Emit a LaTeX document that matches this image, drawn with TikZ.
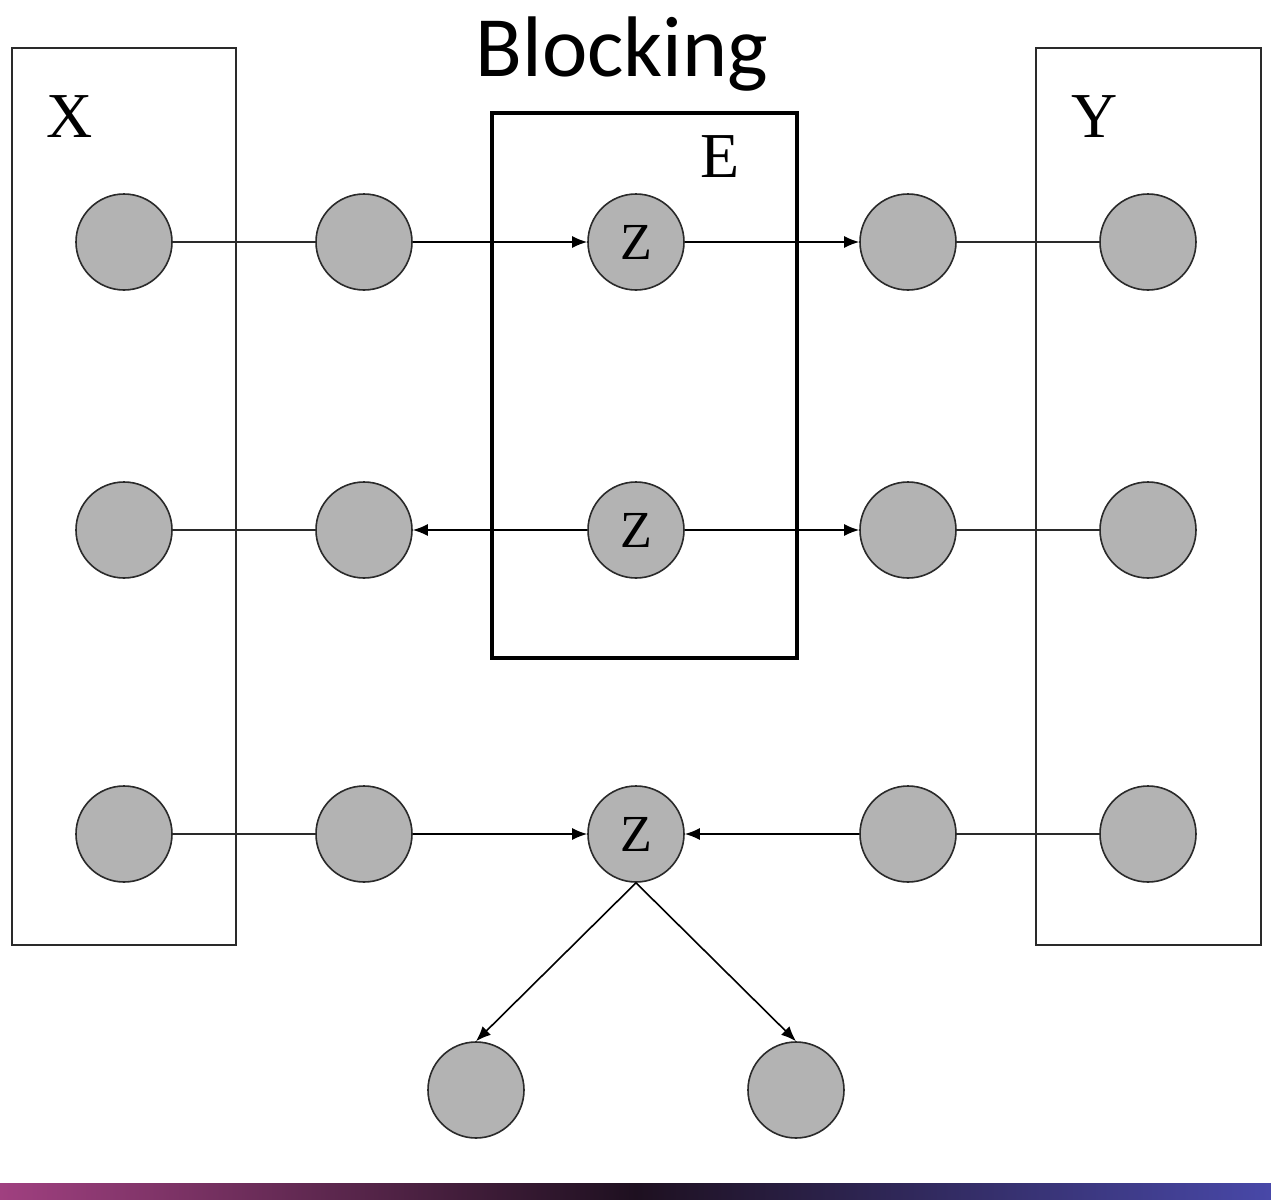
\documentclass[tikz,border=0pt]{standalone}
\usepackage{fontspec}
\setmainfont{Liberation Serif}
\newfontfamily\titlefont{Carlito}
\usetikzlibrary{arrows.meta}
\definecolor{nodegray}{HTML}{B3B3B3}
\definecolor{edgecol}{HTML}{2A2A2A}
\definecolor{stripA}{HTML}{A04080}
\definecolor{stripB}{HTML}{1E1020}
\definecolor{stripC}{HTML}{4848A8}
\begin{document}
\begin{tikzpicture}[x=0.5pt,y=-0.5pt,
  var/.style={circle,draw=edgecol,line width=0.8pt,fill=nodegray,minimum size=48pt,inner sep=0pt,font=\fontsize{26}{26}\selectfont},
  plain/.style={draw=edgecol,line width=0.8pt},
  arr/.style={draw=black,line width=0.8pt,-{Latex[length=7.5pt,width=6pt]}},
  thinbox/.style={draw=edgecol,line width=0.6pt},
  thickbox/.style={draw=black,line width=2pt},
  lab/.style={font=\fontsize{32}{32}\selectfont,inner sep=0pt}
]
\useasboundingbox (0,0) rectangle (1271,1200);
\fill[white] (0,0) rectangle (1271,1200);
% bottom strip
\shade[left color=stripA,right color=stripC,middle color=stripB] (0,1183) rectangle (1271,1200);

% boxes
\draw[thinbox] (12,48) rectangle (236,945);
\draw[thinbox] (1036,48) rectangle (1261,945);
\draw[thickbox] (492,113) rectangle (797,658);

% labels
\node[font=\titlefont\fontsize{43}{43}\selectfont,inner sep=0pt] (title) at (622,54) {Blocking};
\node[lab] (labX) at (70,117) {X};
\node[lab] (labY) at (1095,117) {Y};
\node[lab] (labE) at (720,157) {E};

% nodes row 1
\node[var] (x1) at (124,242) {};
\node[var] (a1) at (364,242) {};
\node[var] (z1) at (636,242) {Z};
\node[var] (b1) at (908,242) {};
\node[var] (y1) at (1148,242) {};
% row 2
\node[var] (x2) at (124,530) {};
\node[var] (a2) at (364,530) {};
\node[var] (z2) at (636,530) {Z};
\node[var] (b2) at (908,530) {};
\node[var] (y2) at (1148,530) {};
% row 3
\node[var] (x3) at (124,834) {};
\node[var] (a3) at (364,834) {};
\node[var] (z3) at (636,834) {Z};
\node[var] (b3) at (908,834) {};
\node[var] (y3) at (1148,834) {};
% children
\node[var] (d1) at (476,1090) {};
\node[var] (d2) at (796,1090) {};

% edges row 1
\draw[plain] (x1) -- (a1);
\draw[arr] (a1) -- (z1);
\draw[arr] (z1) -- (b1);
\draw[plain] (b1) -- (y1);
% row 2
\draw[plain] (x2) -- (a2);
\draw[arr] (z2) -- (a2);
\draw[arr] (z2) -- (b2);
\draw[plain] (b2) -- (y2);
% row 3
\draw[plain] (x3) -- (a3);
\draw[arr] (a3) -- (z3);
\draw[arr] (b3) -- (z3);
\draw[plain] (b3) -- (y3);
% children
\draw[arr] (z3.south) -- (d1.north);
\draw[arr] (z3.south) -- (d2.north);
\end{tikzpicture}
\end{document}
